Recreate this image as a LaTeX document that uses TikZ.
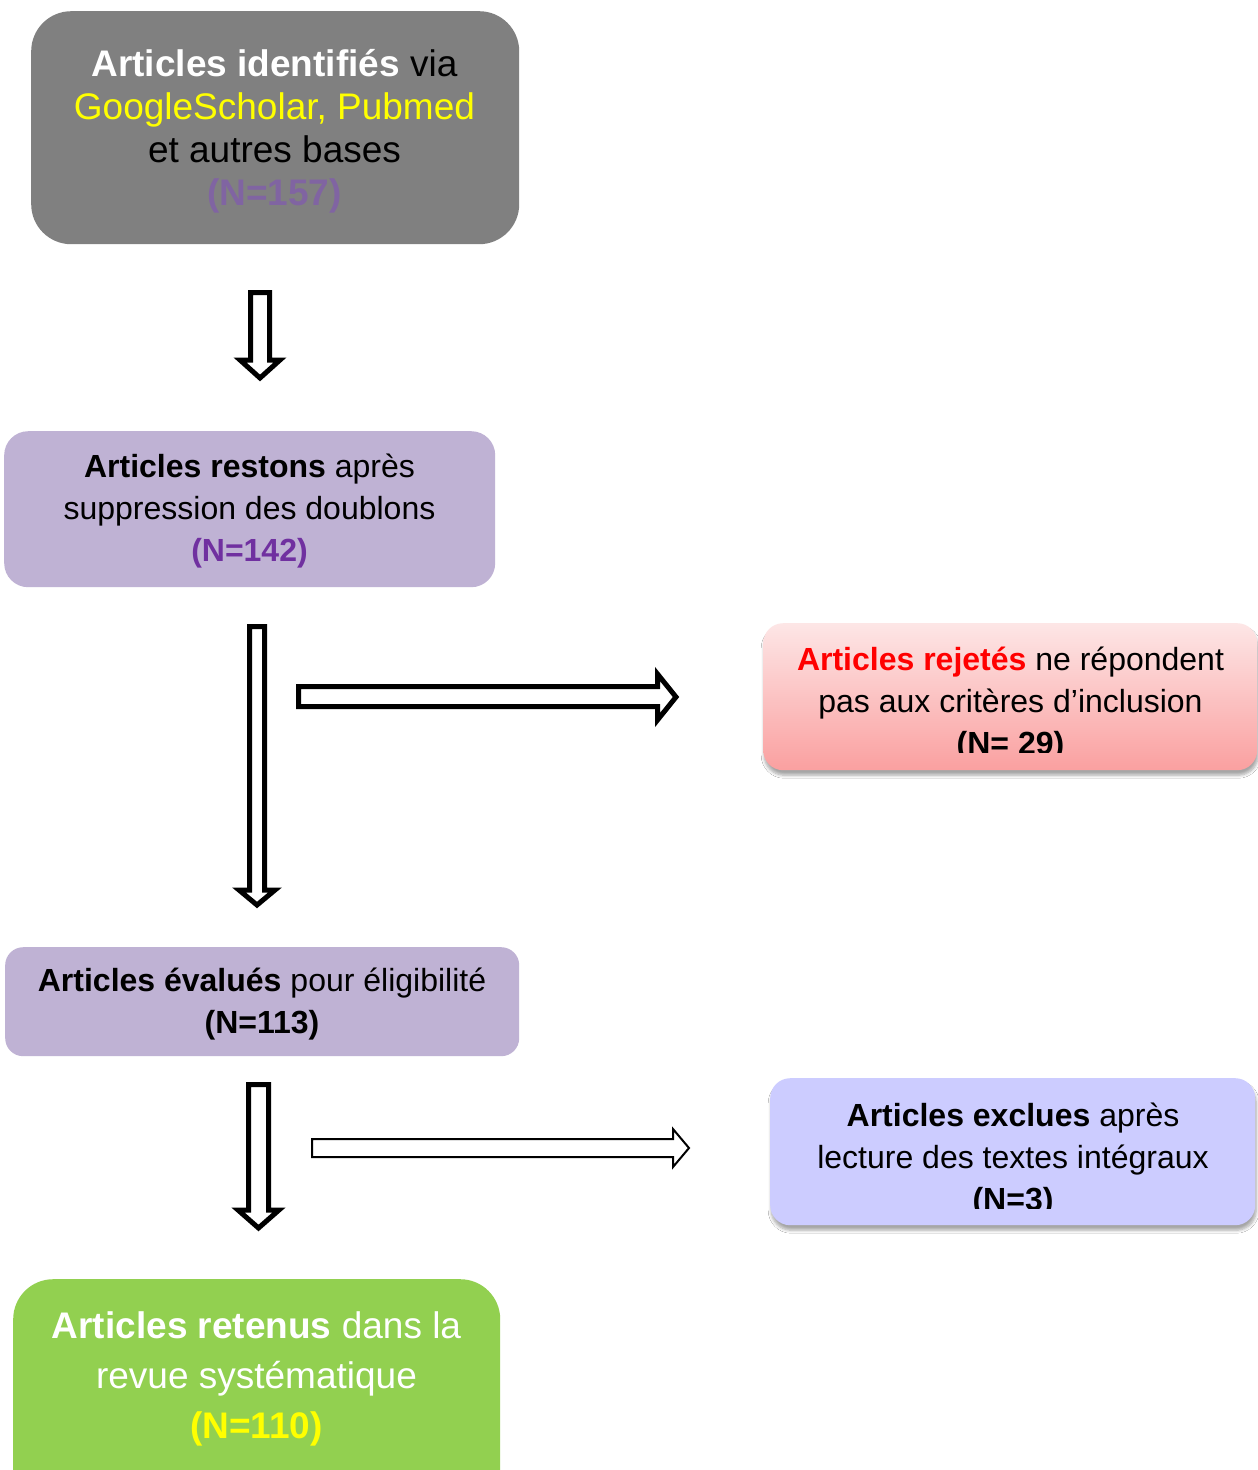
\documentclass[tikz,border=0pt]{standalone}
\usepackage{fontspec}
\setmainfont{Liberation Sans}
\usetikzlibrary{shadows.blur}
\definecolor{boxgray}{RGB}{128,128,128}
\definecolor{lilac}{RGB}{191,178,212}
\definecolor{numpurple}{RGB}{112,48,160}
\definecolor{softpurple}{RGB}{128,100,162}
\definecolor{bluebox}{RGB}{204,204,255}
\definecolor{greenbox}{RGB}{146,208,80}
\definecolor{pinktop}{RGB}{253,230,230}
\definecolor{pinkbot}{RGB}{250,160,160}
\definecolor{pureyellow}{RGB}{255,255,0}
\definecolor{purered}{RGB}{255,0,0}
\begin{document}
\begin{tikzpicture}[x=1pt,y=-1pt,
  boxshape/.style={draw=none, inner sep=0pt, anchor=north west},
  bigtxt/.style={align=center, inner sep=0pt, font=\fontsize{37}{43}\selectfont},
  midtxt/.style={align=center, inner sep=0pt, font=\fontsize{32}{42}\selectfont},
  greentxt/.style={align=center, inner sep=0pt, font=\fontsize{37}{50}\selectfont},
  thickarrow/.style={draw=black, fill=white, line width=5pt, miter limit=10},
  thinarrow/.style={draw=black, fill=white, line width=2pt, miter limit=10},
  softshadow/.style={blur shadow={shadow xshift=1pt, shadow yshift=-5pt, shadow blur steps=6, shadow blur radius=3pt, shadow opacity=35}}
]
\useasboundingbox[fill=white] (0,0) rectangle (1258,1470);

% boxes
\node[boxshape, fill=boxgray, rounded corners=40pt, minimum width=488pt, minimum height=233pt] (b1) at (31,11) {};
\node[boxshape, fill=lilac, rounded corners=24pt, minimum width=491pt, minimum height=156pt] (b2) at (4,431) {};
\node[boxshape, softshadow, top color=pinktop, bottom color=pinkbot, rounded corners=20pt, minimum width=494pt, minimum height=147pt] (b3) at (763,623) {};
\node[boxshape, fill=lilac, rounded corners=18pt, minimum width=514pt, minimum height=109pt] (b4) at (5,947) {};
\node[boxshape, softshadow, fill=bluebox, rounded corners=20pt, minimum width=485pt, minimum height=147pt] (b5) at (770,1078) {};
\node[boxshape, fill=greenbox, rounded corners=40pt, minimum width=487pt, minimum height=230pt] (b6) at (13,1279) {};

% texts
\node[bigtxt] (t1) at (274.5,131) {\textcolor{white}{\textbf{Articles identifiés}} via\\
  \textcolor{pureyellow}{GoogleScholar, Pubmed}\\
  et autres bases\\
  \textcolor{softpurple}{\textbf{(N=157)}}};
\node[midtxt] (t2) at (249.5,511) {\textbf{Articles restons} après\\
  suppression des doublons\\
  \textcolor{numpurple}{\textbf{(N=142)}}};
\begin{scope}
  \clip (763,623) rectangle (1258,752);
  \node[midtxt] (t3) at (1010.5,704) {\textcolor{purered}{\textbf{Articles rejetés}} ne répondent\\
    pas aux critères d’inclusion\\
    \textbf{(N= 29)}};
\end{scope}
\node[midtxt] (t4) at (262,1004) {\textbf{Articles évalués} pour éligibilité\\
  \textbf{(N=113)}};
\begin{scope}
  \clip (770,1078) rectangle (1258,1208);
  \node[midtxt] (t5) at (1013,1160) {\textbf{Articles exclues} après\\
    lecture des textes intégraux\\
    \textbf{(N=3)}};
\end{scope}
\node[greentxt] (t6) at (256.5,1379) {\textcolor{white}{\textbf{Articles retenus} dans la}\\
  \textcolor{white}{revue systématique}\\
  \textcolor{pureyellow}{\textbf{(N=110)}}};

% block arrows
\draw[thickarrow] (250.5,292.5) -- (269.5,292.5) -- (269.5,360) -- (280,360) -- (260,378) -- (240,360) -- (250.5,360) -- cycle;
\draw[thickarrow] (249.5,626.5) -- (264.5,626.5) -- (264.5,890) -- (275,890) -- (257,905) -- (239,890) -- (249.5,890) -- cycle;
\draw[thickarrow] (298.5,686.5) -- (657.5,686.5) -- (657.5,674) -- (676,697) -- (657.5,720) -- (657.5,706.5) -- (298.5,706.5) -- cycle;
\draw[thickarrow] (248.5,1084.5) -- (268.5,1084.5) -- (268.5,1210) -- (279,1210) -- (258.5,1228) -- (238,1210) -- (248.5,1210) -- cycle;
\draw[thinarrow] (312,1139) -- (673,1139) -- (673,1129) -- (689,1148) -- (673,1167) -- (673,1157) -- (312,1157) -- cycle;
\end{tikzpicture}
\end{document}
